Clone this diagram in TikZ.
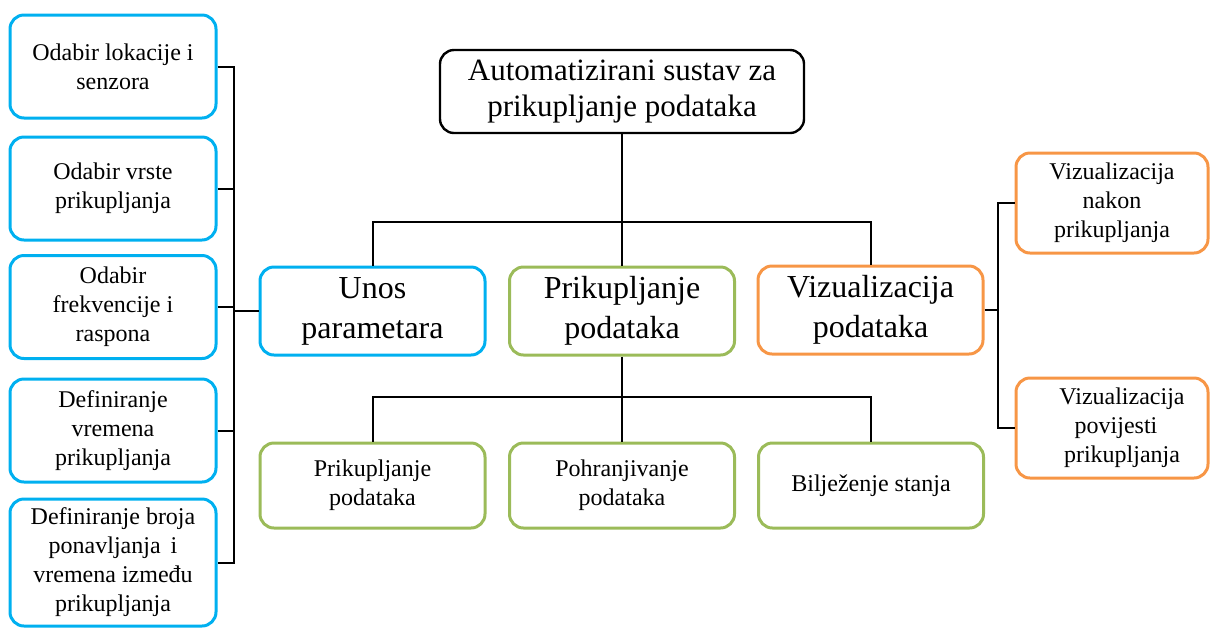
\documentclass[tikz,border=0pt]{standalone}
\usepackage{fontspec}
\setmainfont{LiberationSerif}[Extension=.ttf, UprightFont=*-Regular, BoldFont=*-Bold]
\definecolor{boxblue}{HTML}{00B0F0}
\definecolor{boxgreen}{HTML}{9BBB59}
\definecolor{boxorange}{HTML}{F79646}
\begin{document}
\begin{tikzpicture}[x=0.5pt,y=-0.5pt,
        box/.style = {draw, line width=1.5pt, rounded corners=7pt, align=center, inner sep=0pt},
        leftbox/.style = {box, draw=boxblue, minimum width=103pt, minimum height=51.5pt, font=\fontsize{12}{14.5}\selectfont},
        rightbox/.style = {box, draw=boxorange, minimum width=96pt, minimum height=50pt, font=\fontsize{12}{14.5}\selectfont},
        topbox/.style = {box, draw=black, line width=1.2pt, minimum width=182pt, minimum height=41.5pt, font=\fontsize{15.5}{18}\selectfont},
        midbox/.style = {box, minimum width=112.5pt, minimum height=44pt, font=\fontsize{16}{20}\selectfont},
        lowbox/.style = {box, draw=boxgreen, minimum width=112.5pt, minimum height=42.5pt, font=\fontsize{12}{14.5}\selectfont},
        link/.style = {line width=1pt}]
    \useasboundingbox (0,0) rectangle (1210,628);

    % top
    \node [topbox] (sustav) at (622,91.5) {Automatizirani sustav za\\prikupljanje podataka};

    % middle row
    \node [midbox, draw=boxblue]   (unos) at (372.5,311) {Unos\\parametara};
    \node [midbox, draw=boxgreen]  (prik) at (622,311)   {Prikupljanje\\podataka};
    \node [midbox, draw=boxorange] (viz)  at (870.5,310) {Vizualizacija\\podataka};

    % left column
    \node [leftbox] (odLok)  at (113,66.5)  {Odabir lokacije i\\senzora};
    \node [leftbox] (odVrst) at (113,188.5) {Odabir vrste\\prikupljanja};
    \node [leftbox] (odFrek) at (113,307)   {Odabir\\frekvencije i\\raspona};
    \node [leftbox] (defVr)  at (113,430.5) {Definiranje\\vremena\\prikupljanja};
    \node [leftbox, minimum height=63.5pt] (defBr) at (113,562.5) {Definiranje broja\\ponavljanja\, i\\vremena između\\prikupljanja};

    % bottom row
    \node [lowbox] (prikPod) at (372.5,485.5) {Prikupljanje\\podataka};
    \node [lowbox] (pohPod)  at (622,485.5)   {Pohranjivanje\\podataka};
    \node [lowbox] (biljSt)  at (871,485.5)   {Bilježenje stanja};

    % right column
    \node [rightbox] (vizNak) at (1112,203) {Vizualizacija\\nakon\\prikupljanja};
    \node [rightbox] (vizPov) at (1112,428) {\hspace{10pt}Vizualizacija\\\hspace{4pt}povijesti\\\hspace{10pt}prikupljanja};

    % buses
    \coordinate (lbus) at (234,0);
    \coordinate (tbus) at (622,222);
    \coordinate (bbus) at (622,397);
    \coordinate (rbus) at (998,0);

    % connectors
    \draw[link] (odLok.east) -- (odLok.east -| lbus) -- (defBr.east -| lbus) -- (defBr.east);
    \foreach \n in {odVrst,odFrek,defVr}
        \draw[link] (\n.east) -- (\n.east -| lbus);
    \draw[link] (unos.west) -- (unos.west -| lbus);

    \draw[link] (sustav.south) -- (prik.north);
    \draw[link] (unos.north) |- (tbus) -| (viz.north);

    \draw[link] (prik.south) -- (pohPod.north);
    \draw[link] (prikPod.north) |- (bbus) -| (biljSt.north);

    \draw[link] (vizNak.west) -- (vizNak.west -| rbus) -- (vizPov.west -| rbus) -- (vizPov.west);
    \draw[link] (viz.east) -- (viz.east -| rbus);
\end{tikzpicture}
\end{document}
